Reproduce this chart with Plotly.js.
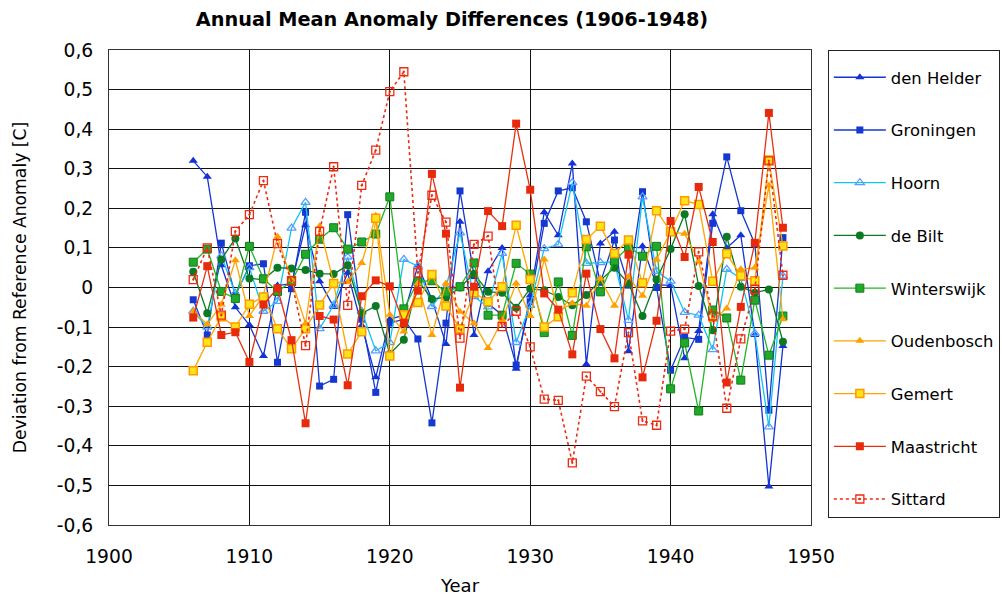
<!DOCTYPE html>
<html>
<head>
<meta charset="utf-8">
<script src="https://cdn.plot.ly/plotly-3.0.1.min.js"></script>
<style>
html,body{margin:0;padding:0;background:#fff;}
#chart{width:1002px;height:596px;}
</style>
</head>
<body>
<div id="chart"></div>
<script>
const years = [1906,1907,1908,1909,1910,1911,1912,1913,1914,1915,1916,1917,1918,1919,1920,1921,1922,1923,1924,1925,1926,1927,1928,1929,1930,1931,1932,1933,1934,1935,1936,1937,1938,1939,1940,1941,1942,1943,1944,1945,1946,1947,1948];

const denHelder   = [0.32,0.28,0.056,-0.05,-0.095,-0.173,0.005,0.01,0.157,0.016,-0.049,0.037,-0.096,-0.227,-0.08,-0.07,0.056,-0.03,-0.143,0.166,-0.12,0.041,0.1,-0.205,-0.02,0.19,0.132,0.313,-0.194,0.111,0.141,-0.161,0.104,0.006,0.006,-0.179,-0.11,0.185,0.1,0.132,-0.12,-0.503,-0.148];
const groningen   = [-0.031,-0.12,0.112,-0.02,0.055,0.06,-0.189,-0.003,0.19,-0.249,-0.232,0.184,-0.08,-0.265,-0.09,-0.08,-0.13,-0.342,-0.09,0.244,0.03,-0.04,-0.07,-0.196,-0.036,0.162,0.244,0.252,0.166,0.013,0.12,0.006,0.242,0.0,-0.209,-0.126,-0.131,0.162,0.33,0.194,0.11,-0.31,0.126];
const hoorn       = [-0.06,-0.1,0.08,-0.015,0.05,-0.06,-0.035,0.15,0.215,-0.104,-0.045,0.077,-0.06,-0.16,-0.139,0.071,0.054,-0.048,0.0,0.138,-0.023,-0.049,0.086,-0.139,-0.045,0.098,0.109,0.265,0.061,0.063,0.065,-0.083,0.229,0.041,0.016,-0.063,-0.07,-0.157,0.046,0.023,-0.116,-0.352,0.029];
const deBilt      = [0.04,-0.065,0.071,0.124,0.023,0.02,0.05,0.048,0.044,0.035,0.034,0.056,-0.065,-0.047,-0.168,-0.132,0.018,-0.029,-0.025,0.0,0.035,-0.011,-0.013,-0.051,-0.003,-0.007,-0.024,-0.045,-0.019,0.018,0.05,0.01,-0.072,0.02,0.097,0.185,0.004,-0.108,0.128,0.002,-0.013,-0.005,-0.137];
const winterswijk = [0.064,0.097,-0.01,-0.028,0.104,0.022,-0.01,0.015,0.084,0.122,0.151,0.097,0.115,0.135,0.229,-0.054,0.015,0.017,-0.012,0.002,0.062,-0.07,-0.07,0.061,0.034,-0.114,0.014,-0.121,0.103,-0.011,0.067,0.103,0.079,0.104,-0.256,-0.14,-0.312,-0.057,-0.077,-0.234,-0.032,-0.171,-0.072];
const oudenbosch  = [-0.06,-0.093,-0.043,0.069,-0.072,-0.02,0.128,0.02,-0.091,0.155,0.012,0.014,0.062,0.181,-0.069,-0.111,0.01,-0.12,0.01,-0.061,-0.09,-0.153,-0.082,0.01,-0.072,0.071,-0.06,-0.04,-0.046,0.023,-0.046,0.027,-0.021,0.071,0.14,0.136,0.066,-0.082,-0.053,0.046,0.05,0.258,-0.08];
const gemert      = [-0.21,-0.138,-0.074,-0.1,-0.042,-0.024,-0.104,-0.155,-0.104,-0.044,0.01,-0.168,-0.112,0.175,-0.173,-0.069,-0.038,0.033,-0.047,-0.104,-0.013,-0.036,0.002,0.157,0.02,-0.1,-0.074,-0.013,0.121,0.155,0.086,0.12,0.012,0.194,0.141,0.219,0.21,0.016,0.085,0.03,0.017,0.322,0.105];
const maastricht  = [-0.076,0.054,-0.12,-0.113,-0.188,-0.043,-0.002,-0.133,-0.343,-0.072,-0.081,-0.247,-0.022,0.018,0.003,-0.09,-0.008,0.287,0.136,-0.253,0.002,0.193,0.155,0.414,0.247,-0.015,-0.056,-0.169,0.035,-0.105,-0.179,0.083,-0.227,-0.084,0.168,0.077,0.254,0.115,-0.24,-0.049,0.113,0.441,0.151];
const sittard     = [0.02,0.1,-0.07,0.142,0.184,0.27,0.111,0.017,-0.147,0.142,0.305,-0.045,0.258,0.347,0.495,0.545,0.037,0.233,0.165,-0.128,0.109,0.13,-0.099,-0.06,-0.15,-0.282,-0.285,-0.443,-0.224,-0.263,-0.301,-0.114,-0.337,-0.348,-0.11,-0.105,0.09,-0.072,-0.305,-0.13,-0.005,0.32,0.031];

const seriesNames = ["den Helder","Groningen","Hoorn","de Bilt","Winterswijk","Oudenbosch","Gemert","Maastricht","Sittard"];
const seriesData = [denHelder,groningen,hoorn,deBilt,winterswijk,oudenbosch,gemert,maastricht,sittard];

const xTickVals = [1900,1910,1920,1930,1940,1950];
const yTickVals = [-0.6,-0.5,-0.4,-0.3,-0.2,-0.1,0,0.1,0.2,0.3,0.4,0.5,0.6];
const yTickText = ["-0,6","-0,5","-0,4","-0,3","-0,2","-0,1","0","0,1","0,2","0,3","0,4","0,5","0,6"];

const styles = [
  {line:{color:'#1432d8',width:1.3}, marker:{symbol:'triangle-up',size:8,color:'#1432d8'}},
  {line:{color:'#1438d0',width:1.3}, marker:{symbol:'square',size:7,color:'#1438d0'}},
  {line:{color:'#10c4f4',width:1.3}, marker:{symbol:'triangle-up-open',size:8,color:'#5a9cff',line:{width:1.3}}},
  {line:{color:'#0b7a22',width:1.3}, marker:{symbol:'circle',size:8,color:'#0b7a22'}},
  {line:{color:'#22b526',width:1.3}, marker:{symbol:'square',size:8,color:'#22a82a',line:{color:'#0f7f1a',width:1}}},
  {line:{color:'#ffa500',width:1.3}, marker:{symbol:'triangle-up',size:8,color:'#ffa000'}},
  {line:{color:'#ffa500',width:1.3}, marker:{symbol:'square',size:8,color:'#ffe21a',line:{color:'#ff9a00',width:1.5}}},
  {line:{color:'#e8300e',width:1.3}, marker:{symbol:'square',size:8,color:'#e82a0c'}},
  {line:{color:'#ee2a10',width:1.6,dash:'dot'}, marker:{symbol:'square-open-dot',size:8,color:'#ee2a10',line:{width:1.3}}}
];

const traces = seriesNames.map((n,i)=>({
  type:'scatter', mode:'lines+markers', name:n, legendgroup:'g'+i,
  x:years, y:seriesData[i], line:styles[i].line, marker:styles[i].marker
}));

const font = "DejaVu Sans, Verdana, sans-serif";
const layout = {
  width:1002, height:596,
  margin:{l:109, r:191, t:50, b:71, autoexpand:false},
  paper_bgcolor:'#fff', plot_bgcolor:'#fff',
  font:{family:font, size:16, color:'#000'},
  title:{text:'<b>Annual Mean Anomaly Differences (1906-1948)</b>', x:452/1002, xanchor:'center', y:0.968, yanchor:'middle', font:{size:19.3, family:font}},
  xaxis:{range:[1900,1950], tickvals:xTickVals, ticktext:xTickVals.map(String), showgrid:true, gridcolor:'#111', gridwidth:1,
         showline:true, linecolor:'#333', mirror:true, zeroline:false, ticks:'', tickfont:{size:18.7}, ticklabelstandoff:15,
         title:{text:'Year', font:{size:18}, standoff:18}},
  yaxis:{range:[-0.6,0.6], tickvals:yTickVals, ticktext:yTickText, showgrid:true, gridcolor:'#111', gridwidth:1,
         showline:true, linecolor:'#333', mirror:true, zeroline:false, ticks:'', tickfont:{size:18.7}, ticklabelstandoff:11,
         title:{text:'Deviation from Reference Anomaly [C]', font:{size:17.2}, standoff:25}},
  showlegend:true,
  legend:{x:1.024, xanchor:'left', y:1, yanchor:'top', bgcolor:'#fff', bordercolor:'#222', borderwidth:1,
          font:{size:16.4, family:font}, tracegroupgap:28.4, itemwidth:52,
          title:{text:' ', font:{size:7}}}
};

Plotly.newPlot('chart', traces, layout, {displayModeBar:false, staticPlot:true});
</script>
</body>
</html>
